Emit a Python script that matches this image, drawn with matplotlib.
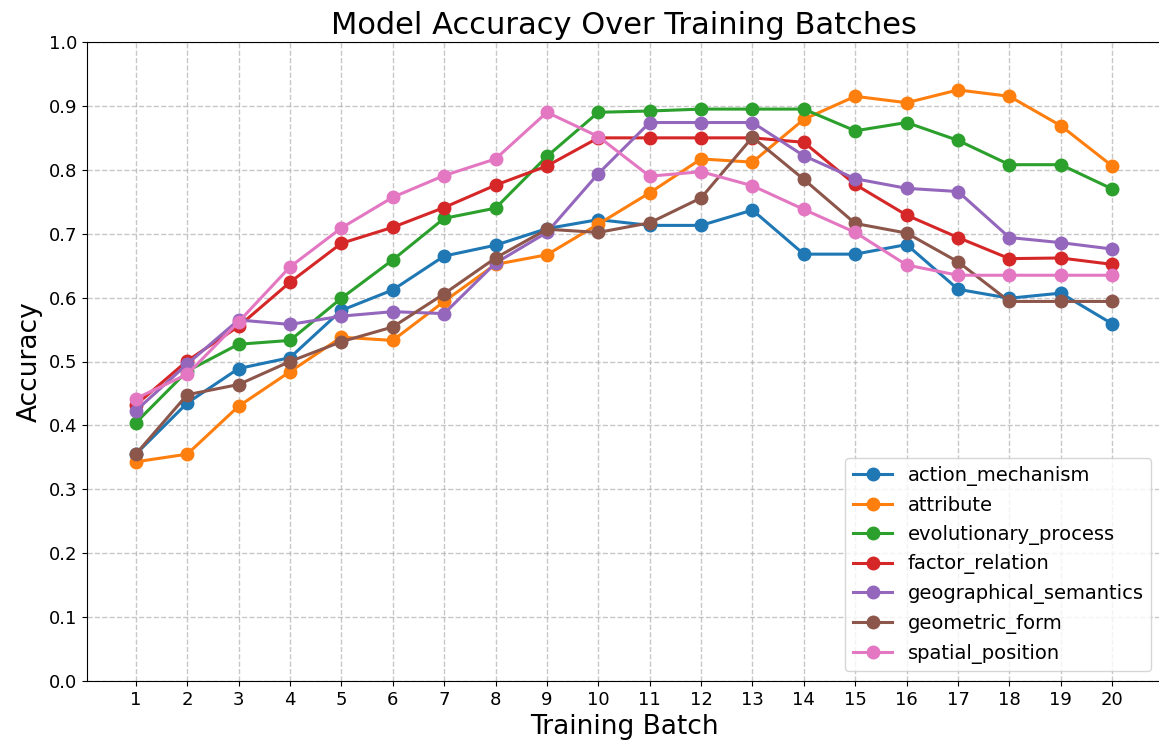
import matplotlib
matplotlib.use("Agg")
import matplotlib.pyplot as plt

batches = list(range(1, 21))

action_mechanism = [0.355, 0.435, 0.489, 0.506, 0.580, 0.612, 0.665, 0.682, 0.708, 0.722,
                    0.713, 0.713, 0.737, 0.668, 0.668, 0.683, 0.613, 0.599, 0.607, 0.559]
attribute = [0.343, 0.355, 0.430, 0.484, 0.538, 0.533, 0.594, 0.652, 0.667, 0.715,
             0.764, 0.817, 0.812, 0.879, 0.915, 0.905, 0.925, 0.915, 0.869, 0.806]
evolutionary_process = [0.404, 0.485, 0.527, 0.533, 0.599, 0.659, 0.724, 0.740, 0.821, 0.890,
                        0.892, 0.895, 0.895, 0.895, 0.861, 0.874, 0.846, 0.808, 0.808, 0.770]
factor_relation = [0.432, 0.501, 0.555, 0.624, 0.685, 0.710, 0.741, 0.776, 0.806, 0.850,
                   0.850, 0.850, 0.850, 0.843, 0.777, 0.729, 0.694, 0.661, 0.662, 0.652]
geographical_semantics = [0.423, 0.496, 0.565, 0.558, 0.571, 0.578, 0.575, 0.654, 0.702, 0.794,
                          0.874, 0.874, 0.874, 0.822, 0.786, 0.771, 0.766, 0.694, 0.686, 0.676]
geometric_form = [0.355, 0.448, 0.464, 0.500, 0.531, 0.554, 0.606, 0.662, 0.707, 0.702,
                  0.717, 0.756, 0.851, 0.785, 0.716, 0.701, 0.656, 0.594, 0.594, 0.594]
spatial_position = [0.442, 0.480, 0.562, 0.648, 0.709, 0.757, 0.791, 0.817, 0.890, 0.852,
                    0.790, 0.797, 0.775, 0.738, 0.702, 0.651, 0.635, 0.635, 0.635, 0.635]

series = [
    ("action_mechanism", action_mechanism),
    ("attribute", attribute),
    ("evolutionary_process", evolutionary_process),
    ("factor_relation", factor_relation),
    ("geographical_semantics", geographical_semantics),
    ("geometric_form", geometric_form),
    ("spatial_position", spatial_position),
]

fig = plt.figure(figsize=(11.59, 7.52), dpi=100)
ax = fig.add_axes([87 / 1159, 1 - 681 / 752, (1161 - 87) / 1159, (681 - 42) / 752])

for name, vals in series:
    ax.plot(batches, vals, marker="o", markersize=9, linewidth=2.2, label=name)

ax.set_ylim(0, 1.0)
ax.set_yticks([i / 10 for i in range(11)])
ax.set_xticks(batches)
ax.tick_params(labelsize=13)
ax.grid(True, linestyle="--", color="#b0b0b0", alpha=0.7, linewidth=1)
ax.set_title("Model Accuracy Over Training Batches", fontsize=22)
ax.set_xlabel("Training Batch", fontsize=19)
ax.set_ylabel("Accuracy", fontsize=19)
ax.legend(loc="lower right", fontsize=14)

fig.savefig("out.png", dpi=100)
